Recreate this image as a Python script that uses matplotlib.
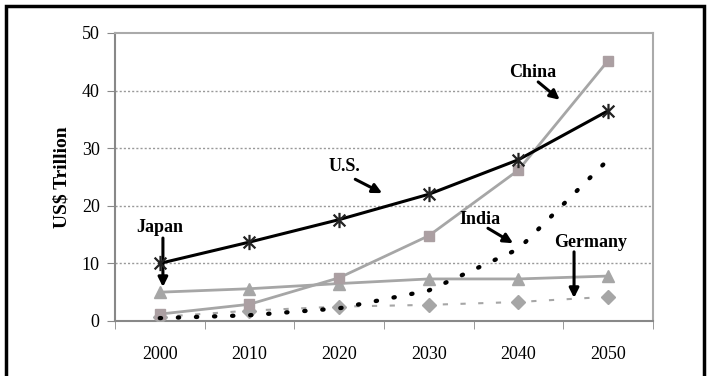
import numpy as np
import matplotlib
matplotlib.use('Agg')
import matplotlib.pyplot as plt
from matplotlib.path import Path
from matplotlib.patches import Rectangle

plt.rcParams['font.family'] = ['Liberation Serif', 'DejaVu Serif']

years = ['2000', '2010', '2020', '2030', '2040', '2050']
us = [10.0, 13.7, 17.6, 22.0, 28.0, 36.5]
china = [1.2, 2.9, 7.5, 14.8, 26.2, 45.2]
japan = [5.0, 5.6, 6.5, 7.3, 7.3, 7.8]
india = [0.5, 1.0, 2.2, 5.3, 12.5, 28.0]
germany = [0.7, 1.8, 2.5, 2.8, 3.3, 4.2]

# X with a vertical bar through it
star = Path([(-1, -1), (1, 1), (-1, 1), (1, -1), (0, -1.3), (0, 1.3)],
            [Path.MOVETO, Path.LINETO, Path.MOVETO, Path.LINETO, Path.MOVETO, Path.LINETO])

fig = plt.figure(figsize=(7.14, 3.76), dpi=100)
# frame is open at the bottom
fig.patches.append(Rectangle((0.008, -0.05), 0.978, 1.033, transform=fig.transFigure,
                             fill=False, edgecolor='black', linewidth=2.5))

ax = fig.add_axes([0.161, 0.1463, 0.7535, 0.766])
x = np.arange(len(years))

gray = '#a6a6a6'
ax.plot(x, germany, color=gray, linestyle=(0, (2.5, 6)), linewidth=1.5, marker='D',
        markersize=7, markerfacecolor=gray, markeredgecolor=gray, zorder=3)
ax.plot(x, japan, color=gray, linewidth=2, marker='^', markersize=9,
        markerfacecolor=gray, markeredgecolor=gray, zorder=3)
ax.plot(x, china, color=gray, linewidth=2, marker='s', markersize=7,
        markerfacecolor='#ab9fa2', markeredgecolor='#ab9fa2', zorder=3)
ax.plot(x, india, color='black', linestyle=(0, (0.3, 3.9)), linewidth=3.1,
        solid_capstyle='round', dash_capstyle='round', zorder=4)
ax.plot(x, us, color='black', linewidth=2.2, marker=star, markersize=11,
        markeredgewidth=1.6, markerfacecolor='none', markeredgecolor='#222222', zorder=5)

ax.set_xlim(-0.5, 5.5)
ax.set_ylim(0, 50)
ax.set_yticks([0, 10, 20, 30, 40, 50])
ax.set_xticks(x)
ax.set_xticklabels(years)
ax.set_xticks(np.arange(-0.5, 6, 1), minor=True)
ax.tick_params(axis='x', which='major', length=0, pad=18, labelsize=13)
ax.tick_params(axis='x', which='minor', length=6, color='#888888', direction='out')
ax.tick_params(axis='y', length=6, color='#888888', labelsize=13, pad=5)

for v in [10, 20, 30, 40]:
    ax.axhline(v, color='#999999', linewidth=1, linestyle=(0, (1.5, 1.5)), zorder=1)

for side in ['left', 'bottom']:
    ax.spines[side].set_color('#888888')
    ax.spines[side].set_linewidth(1.5)
for side in ['top', 'right']:
    ax.spines[side].set_color('#aaaaaa')
    ax.spines[side].set_linewidth(1.5)

ax.set_ylabel('US$ Trillion', fontsize=14, fontweight='bold', labelpad=8)

arrow = dict(arrowstyle='-|>', color='black', lw=2.2, mutation_scale=14, shrinkA=0, shrinkB=0)
notes = [
    ('China', (4.16, 43.2), (4.22, 41.5), (4.46, 38.4)),
    ('U.S.', (2.06, 26.9), (2.18, 24.6), (2.48, 22.2)),
    ('Japan', (0.0, 16.3), (0.035, 14.4), (0.035, 5.9)),
    ('India', (3.57, 17.7), (3.66, 16.1), (3.94, 13.5)),
    ('Germany', (4.80, 13.7), (4.62, 12.0), (4.62, 4.0)),
]
for label, tpos, start, end in notes:
    ax.text(tpos[0], tpos[1], label, ha='center', va='center', fontsize=13, fontweight='bold')
    ax.annotate('', xy=end, xytext=start, arrowprops=arrow)

fig.savefig('out.png', dpi=100)
